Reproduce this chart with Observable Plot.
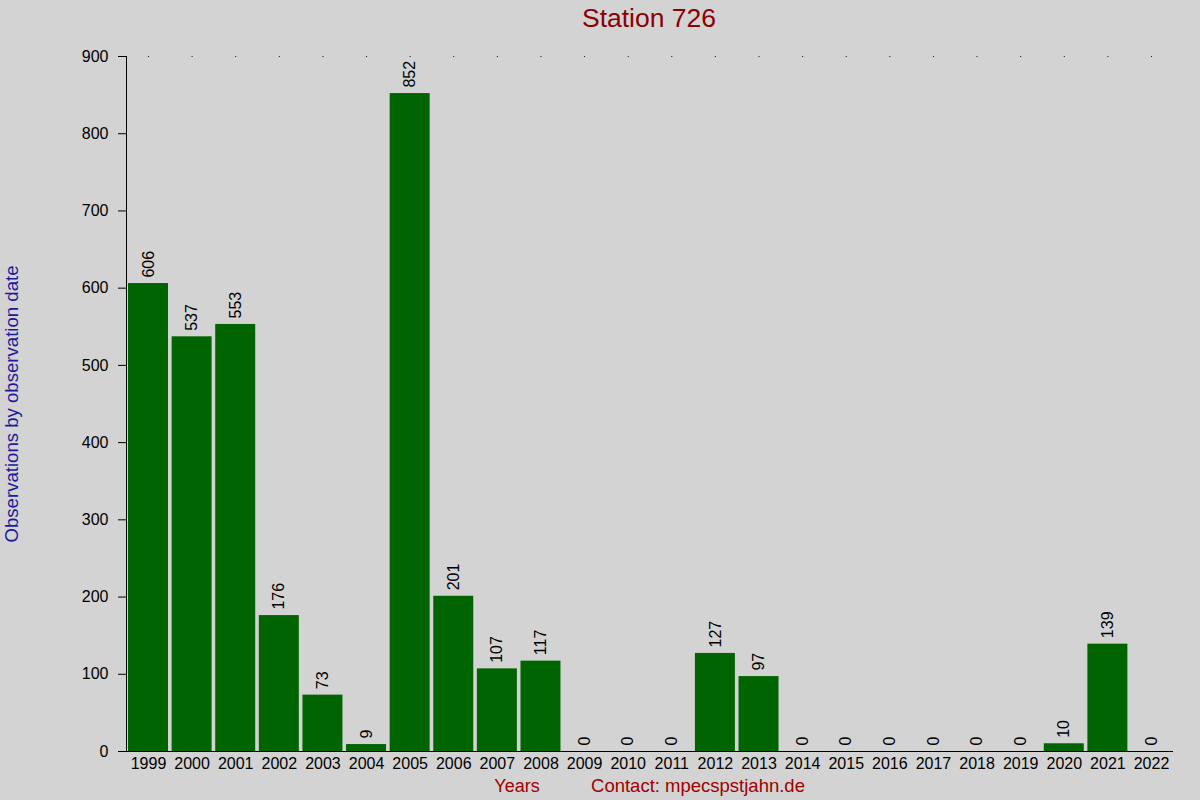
<!DOCTYPE html>
<html>
<head>
<meta charset="utf-8">
<script src="https://cdn.jsdelivr.net/npm/d3@7"></script>
<script src="https://cdn.jsdelivr.net/npm/@observablehq/plot@0.6"></script>
<style>
  html, body { margin: 0; padding: 0; background: #d3d3d3; }
  #chart { width: 1200px; height: 800px; }
  svg { font-family: "Liberation Sans", Arial, sans-serif; }
</style>
</head>
<body>
<div id="chart"></div>
<script>
const years = ["1999","2000","2001","2002","2003","2004","2005","2006","2007","2008","2009","2010","2011","2012","2013","2014","2015","2016","2017","2018","2019","2020","2021","2022"];
const counts = [606,537,553,176,73,9,852,201,107,117,0,0,0,127,97,0,0,0,0,0,0,10,139,0];
const yTicks = [0,100,200,300,400,500,600,700,800,900];
const titleText = "Station 726";
const yLabel = "Observations by observation date";
const xLabel = "Years";
const contact = "Contact: mpecspstjahn.de";

const data = years.map((y, i) => ({year: y, value: counts[i]}));

const chart = Plot.plot({
  width: 1200,
  height: 800,
  marginTop: 56,
  marginBottom: 49,
  marginLeft: 126,
  marginRight: 27,
  style: {background: "#d3d3d3", fontSize: "16px", fontFamily: "'Liberation Sans', Arial, sans-serif", color: "#000"},
  x: {domain: years, paddingInner: 0.083, paddingOuter: 0.046, align: 0.5, round: false, label: null},
  y: {domain: [0, 900], label: null},
  marks: [
    Plot.barY(data, {x: "year", y: "value", fill: "#006400"}),
    Plot.dot(years, {x: d => d, y: () => 900, r: 0.6, fill: "#000", stroke: null}),
    Plot.text(data, {x: "year", y: "value", text: d => String(d.value), rotate: -90, textAnchor: "start", lineAnchor: "middle", dy: -6, fontSize: 16, fill: "#000"}),
    Plot.axisY({ticks: yTicks, tickSize: 8, tickPadding: 10, fontSize: 16, label: null, stroke: "#000"}),
    Plot.axisX({tickSize: 0, tickPadding: 6, fontSize: 16, label: null}),
    Plot.frame({anchor: "left", stroke: "#000"}),
    Plot.ruleY([0], {stroke: "#000"}),
    Plot.text([titleText], {frameAnchor: "top", lineAnchor: "middle", dy: -38, dx: -1, text: d => d, fontSize: 26.5, fill: "#8b0000"}),
    Plot.text([yLabel], {frameAnchor: "left", textAnchor: "middle", lineAnchor: "middle", dx: -114, dy: 0, rotate: -90, text: d => d, fontSize: 18.6, fill: "#1a1a9c"}),
    Plot.text([xLabel], {frameAnchor: "bottom", lineAnchor: "middle", text: d => d, fontSize: 18, fill: "#a00000", dy: 35, dx: -133}),
    Plot.text([contact], {frameAnchor: "bottom", lineAnchor: "middle", text: d => d, fontSize: 18.5, fill: "#a00000", dy: 35, dx: 48})
  ]
});
document.getElementById("chart").appendChild(chart);
</script>
</body>
</html>
